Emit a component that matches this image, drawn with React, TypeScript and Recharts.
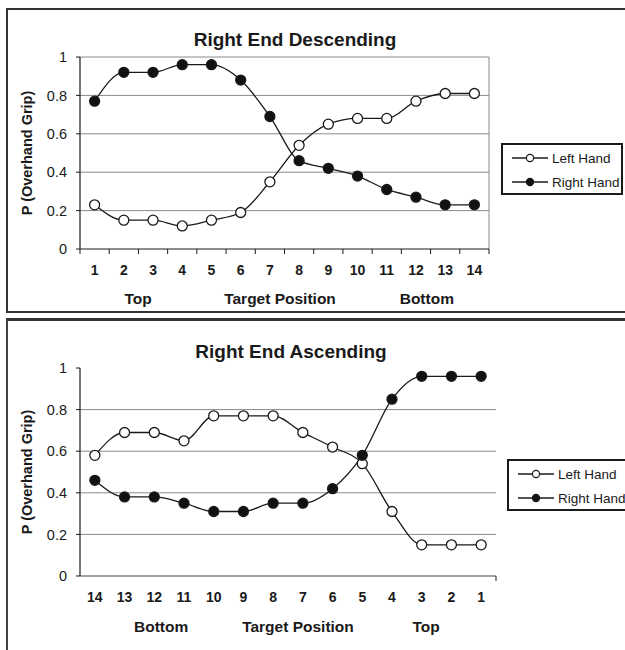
import React from 'react';
import { LineChart, Line, XAxis, YAxis, CartesianGrid, Legend, ReferenceLine } from 'recharts';

// ---- data ----
const descPositions = ['1', '2', '3', '4', '5', '6', '7', '8', '9', '10', '11', '12', '13', '14'];
const descLeftHand = [0.23, 0.15, 0.15, 0.12, 0.15, 0.19, 0.35, 0.54, 0.65, 0.68, 0.68, 0.77, 0.81, 0.81];
const descRightHand = [0.77, 0.92, 0.92, 0.96, 0.96, 0.88, 0.69, 0.46, 0.42, 0.38, 0.31, 0.27, 0.23, 0.23];

const ascPositions = ['14', '13', '12', '11', '10', '9', '8', '7', '6', '5', '4', '3', '2', '1'];
const ascLeftHand = [0.58, 0.69, 0.69, 0.65, 0.77, 0.77, 0.77, 0.69, 0.62, 0.54, 0.31, 0.15, 0.15, 0.15];
const ascRightHand = [0.46, 0.38, 0.38, 0.35, 0.31, 0.31, 0.35, 0.35, 0.42, 0.58, 0.85, 0.96, 0.96, 0.96];

const yTicks = [0, 0.2, 0.4, 0.6, 0.8, 1];
const seriesNames = { left: 'Left Hand', right: 'Right Hand' };
const markerFill: Record<string, string> = { left: '#ffffff', right: '#111111' };
const descAxisParts = ['Top', 'Target Position', 'Bottom'];
const ascAxisParts = ['Bottom', 'Target Position', 'Top'];

const FONT = '"Liberation Sans", Arial, Helvetica, sans-serif';
const INK = '#1a1a1a';

function buildRows(left: number[], right: number[]) {
  return left.map((l, i) => ({ idx: i + 1, left: l, right: right[i] }));
}
const descData = buildRows(descLeftHand, descRightHand);
const ascData = buildRows(ascLeftHand, ascRightHand);

const halfTicks: number[] = [];
for (let i = 0; i <= 28; i++) halfTicks.push(0.5 + i * 0.5);

function AxisTick(props: any) {
  const { x, y, payload, labels, marks } = props;
  const v = payload.value;
  if (Number.isInteger(v)) {
    return (
      <text x={x} y={y + 21} textAnchor="middle" dominantBaseline="central"
        style={{ fontFamily: FONT, fontWeight: 'bold', fontSize: 14, fill: INK }}>
        {labels[v - 1]}
      </text>
    );
  }
  if (marks === 'all' || (marks === 'end' && v === 14.5)) {
    return <line x1={x} y1={y} x2={x} y2={y + 5} stroke={INK} strokeWidth={1} />;
  }
  return null;
}

function SubLabels(props: any) {
  const { viewBox, parts, fracs, dy } = props;
  if (!viewBox) return null;
  const { x, y, width } = viewBox;
  return (
    <g>
      {parts.map((p: string, i: number) => (
        <text key={p} x={x + width * fracs[i]} y={y + dy} textAnchor="middle" dominantBaseline="central"
          style={{ fontFamily: FONT, fontWeight: 'bold', fontSize: 15.5, fill: INK }}>
          {p}
        </text>
      ))}
    </g>
  );
}

function LegendBox(props: any) {
  const { payload } = props;
  return (
    <div style={{ border: `2px solid ${INK}`, background: '#fff', boxSizing: 'border-box', width: '100%', height: '100%', padding: '1px 0 0 9px' }}>
      {(payload || []).map((entry: any) => (
        <div key={entry.value} style={{ display: 'flex', alignItems: 'center', height: 24, fontFamily: FONT, fontSize: 13.5, color: INK }}>
          <svg width={36} height={12} style={{ display: 'block', flex: 'none' }}>
            <line x1={0} y1={6} x2={36} y2={6} stroke={INK} strokeWidth={1.3} />
            <circle cx={18} cy={6} r={3.6} fill={markerFill[entry.dataKey]} stroke={INK} strokeWidth={1.2} />
          </svg>
          <span style={{ marginLeft: 4, whiteSpace: 'nowrap' }}>{entry.value}</span>
        </div>
      ))}
    </div>
  );
}

function Chart(props: any) {
  const { data, labels, marks, parts, fracs, dy, height, margin, xHeight, gridValues, border, legendPos, axisColor } = props;
  return (
    <LineChart width={625} height={height} data={data} margin={margin} style={{ fontFamily: FONT }}>
      <CartesianGrid vertical={false} horizontalValues={gridValues} stroke="#8a8a8a" strokeWidth={1} />
      {border && <ReferenceLine x={14.5} stroke="#8a8a8a" strokeWidth={1} />}
      <XAxis
        dataKey="idx"
        type="number"
        domain={[0.5, 14.5]}
        ticks={halfTicks}
        interval={0}
        tickSize={0}
        tickMargin={0}
        tickLine={false}
        height={xHeight}
        axisLine={{ stroke: axisColor, strokeWidth: 1.2 }}
        tick={(tp: any) => <AxisTick {...tp} labels={labels} marks={marks} />}
        label={(lp: any) => <SubLabels {...lp} parts={parts} fracs={fracs} dy={dy} />}
      />
      <YAxis
        type="number"
        domain={[0, 1]}
        ticks={yTicks}
        width={60}
        tickSize={4}
        tickMargin={9}
        axisLine={{ stroke: INK, strokeWidth: 1.2 }}
        tickLine={{ stroke: INK }}
        tick={{ fontFamily: FONT, fontSize: 14.5, fill: INK }}
        label={{
          value: 'P (Overhand Grip)',
          angle: -90,
          position: 'insideLeft',
          offset: 7,
          style: { textAnchor: 'middle', fontFamily: FONT, fontWeight: 'bold', fontSize: 14.5, fill: INK },
        }}
      />
      <Legend
        layout="vertical"
        align="center"
        verticalAlign="middle"
        wrapperStyle={{ left: legendPos.left, top: legendPos.top, width: legendPos.width, height: 52 }}
        content={(lp: any) => <LegendBox {...lp} />}
      />
      <Line
        dataKey="left"
        name={seriesNames.left}
        type="monotone"
        stroke={INK}
        strokeWidth={1.3}
        dot={{ r: 5, fill: markerFill.left, stroke: INK, strokeWidth: 1.3 }}
        activeDot={false}
        isAnimationActive={false}
      />
      <Line
        dataKey="right"
        name={seriesNames.right}
        type="monotone"
        stroke={INK}
        strokeWidth={1.3}
        dot={{ r: 5, fill: markerFill.right, stroke: INK, strokeWidth: 1.3 }}
        activeDot={false}
        isAnimationActive={false}
      />
    </LineChart>
  );
}

export default function App() {
  return (
    <div style={{ position: 'fixed', left: 0, top: 0, width: 625, height: 650, overflow: 'hidden', background: '#fff' }}>
      {/* top frame */}
      <div style={{ position: 'absolute', left: 6, top: 8, width: 660, height: 305, boxSizing: 'border-box', border: '2px solid #333' }} />
      {/* bottom frame */}
      <div style={{ position: 'absolute', left: 6, top: 318, width: 660, height: 360, boxSizing: 'border-box', borderTop: '3px solid #333', borderLeft: '2px solid #444' }} />

      <div style={{ position: 'absolute', left: 0, top: 0 }}>
        <Chart
          data={descData}
          labels={descPositions}
          marks="all"
          parts={descAxisParts}
          fracs={[0.142, 0.489, 0.848]}
          dy={49}
          height={313}
          margin={{ top: 57, right: 136, bottom: 4, left: 20 }}
          xHeight={60}
          gridValues={[0.2, 0.4, 0.6, 0.8, 1]}
          border={true}
          legendPos={{ left: 501, top: 143, width: 122 }}
          axisColor={INK}
        />
      </div>
      <div style={{ position: 'absolute', left: 95, top: 28, width: 400, textAlign: 'center', fontFamily: FONT, fontWeight: 'bold', fontSize: 19, color: INK, lineHeight: '24px' }}>
        Right End Descending
      </div>

      <div style={{ position: 'absolute', left: 0, top: 319 }}>
        <Chart
          data={ascData}
          labels={ascPositions}
          marks="end"
          parts={ascAxisParts}
          fracs={[0.195, 0.524, 0.832]}
          dy={50}
          height={331}
          margin={{ top: 49, right: 129, bottom: 4, left: 20 }}
          xHeight={70}
          gridValues={[0.2, 0.4, 0.6, 0.8]}
          border={false}
          legendPos={{ left: 507, top: 140, width: 135 }}
          axisColor="#444"
        />
      </div>
      <div style={{ position: 'absolute', left: 91, top: 340, width: 400, textAlign: 'center', fontFamily: FONT, fontWeight: 'bold', fontSize: 19, color: INK, lineHeight: '24px' }}>
        Right End Ascending
      </div>
    </div>
  );
}
